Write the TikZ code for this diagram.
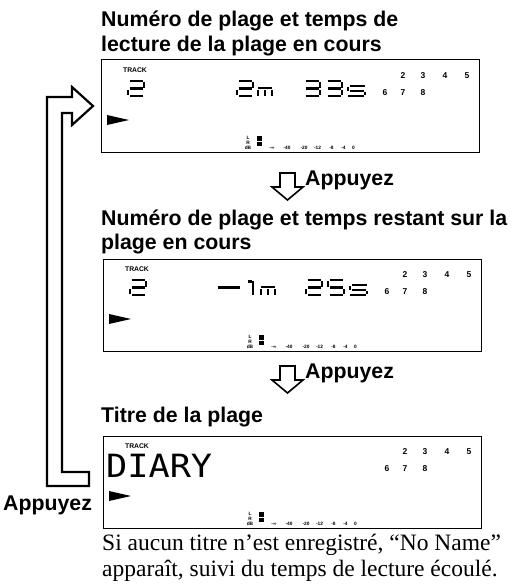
\documentclass[tikz,border=0pt]{standalone}
\usepackage{fontspec}
\setmainfont{Liberation Serif}
\setsansfont{Liberation Sans}
\newfontfamily\lcdfont{DejaVu Sans Mono}
\usetikzlibrary{positioning}

\tikzset{
  heading/.style={font=\sffamily\bfseries\fontsize{21.3}{25}\selectfont, anchor=base west, inner sep=0pt},
  note/.style={font=\fontsize{23.5}{26}\selectfont, anchor=base west, inner sep=0pt},
  lcdframe/.style={draw, line width=1pt, minimum width=378pt, minimum height=92pt, anchor=north west, inner sep=0pt, outer sep=0pt},
  lcdseg/.style={line width=2.6pt},
  hollow/.style={draw, line width=1.6pt, fill=white, line join=miter},
  tracklbl/.style={font=\sffamily\bfseries\fontsize{6.8}{7}\selectfont, inner sep=0pt},
  trackno/.style={font=\sffamily\bfseries\fontsize{8.5}{9}\selectfont, inner sep=0pt},
  tinylbl/.style={font=\sffamily\bfseries\fontsize{4.8}{5}\selectfont, inner sep=0pt, anchor=base},
}

% segments of one LCD digit, 16 wide and 15 high
\def\segA{(1.5,0) -- (14.5,0)}
\def\segB{(16,1) -- (16,6.5)}
\def\segC{(16,8.5) -- (16,14)}
\def\segD{(1.5,15) -- (14.5,15)}
\def\segE{(0,8.5) -- (0,14)}
\def\segF{(0,1) -- (0,6.5)}
\def\segG{(1.5,7.5) -- (14.5,7.5)}

\newcommand{\lcddigit}[3]{%
  \begin{scope}[shift={(#1,#2)}]
    \foreach \s in {#3} {\draw[lcdseg] \csname seg\s\endcsname;}
  \end{scope}}

% small m and s of the time read-out
\newcommand{\lcdm}[2]{%
  \begin{scope}[shift={(#1,#2)}]
    \draw[lcdseg] (0,7) -- (14,7);
    \foreach \lx in {0,7,14} {\draw[lcdseg] (\lx,9) -- (\lx,15);}
  \end{scope}}
\newcommand{\lcds}[2]{%
  \begin{scope}[shift={(#1,#2)}]
    \draw[lcdseg] (1.5,5) -- (17,5);
    \draw[lcdseg] (0,6) -- (0,9.5);
    \draw[lcdseg] (1.5,10) -- (15.5,10);
    \draw[lcdseg] (17,11) -- (17,14);
    \draw[lcdseg] (0,15) -- (15.5,15);
  \end{scope}}

% parts shared by the three displays
\newcommand{\lcdbase}[1]{%
  \node[tracklbl] (#1-track) at (34,10.5) {TRACK};
  \foreach \n/\px/\py in {2/302/16,3/322/16,4/344/16,5/366/16,6/284/33,7/302/33,8/322/33}
    {\node[trackno] (#1-no\n) at (\px,\py) {\n};}
  \fill (6,55) -- (28,60) -- (6,65) -- cycle;
  \node[tinylbl] (#1-l) at (147,79.5) {L};
  \node[tinylbl] (#1-r) at (147,84.5) {R};
  \node[tinylbl] (#1-db) at (147,89.5) {dB};
  \fill (156,76) rectangle (161,80.5);
  \fill (156,81.5) rectangle (161,86);
  \foreach \v/\px [count=\i] in {-∞/171,-40/186,-20/203,-12/216.5,-8/230.5,-4/242.5,0/252.5}
    {\node[tinylbl] (#1-db\i) at (\px,89.5) {\v};}
}

\begin{document}
\begin{tikzpicture}[x=1pt, y=-1pt]
\useasboundingbox (0,0) rectangle (513,586);

% elapsed time
\node[heading] (t1a) at (101,27) {Numéro de plage et temps de};
\node[heading] (t1b) at (101,52) {lecture de la plage en cours};
\node[lcdframe] (d1) at (101,60) {};
\begin{scope}[shift={(d1.north west)}]
  \lcdbase{d1}
  \lcddigit{27}{21}{A,B,G,E,D}
  \lcddigit{136}{21}{A,B,G,E,D}
  \lcdm{157}{21}
  \lcddigit{203}{21}{A,B,G,C,D}
  \lcddigit{225}{21}{A,B,G,C,D}
  \lcds{247}{21}
\end{scope}

\draw[hollow] (280,173) -- (295,173) -- (295,187) -- (303,187) -- (287.5,200) -- (272,187) -- (280,187) -- cycle;
\node[heading] (p1) at (305,185) {Appuyez};

% remaining time
\node[heading] (t2a) at (101,225) {Numéro de plage et temps restant sur la};
\node[heading] (t2b) at (101,249) {plage en cours};
\node[lcdframe] (d2) at (103,259) {};
\begin{scope}[shift={(d2.north west)}]
  \lcdbase{d2}
  \lcddigit{27}{21}{A,B,G,E,D}
  \draw[lcdseg] (115,28.5) -- (137,28.5);
  \draw[lcdseg] (150,21.5) -- (150,36);
  \draw[lcdseg] (145,22.5) -- (148.5,22.5);
  \lcdm{158}{21}
  \lcddigit{203}{21}{A,B,G,E,D}
  \lcddigit{225}{21}{A,F,G,C,D}
  \lcds{247}{21}
\end{scope}

\draw[hollow] (280,366) -- (295,366) -- (295,380) -- (303,380) -- (287.5,393) -- (272,380) -- (280,380) -- cycle;
\node[heading] (p2) at (305,378) {Appuyez};

% track title
\node[heading] (t3) at (101,422) {Titre de la plage};
\node[lcdframe] (d3) at (103,436) {};
\begin{scope}[shift={(d3.north west)}]
  \lcdbase{d3}
  \node[font=\lcdfont\fontsize{32}{32}\selectfont, anchor=base west, inner sep=0pt, xscale=1.1, transform shape] (d3-title) at (3,41) {DIARY};
\end{scope}

% back to the first display
\draw[hollow, line width=2.2pt] (89,486) -- (47,486) -- (47,97) -- (72,97) -- (72,87) -- (93,106) -- (72,125) -- (72,113) -- (62,113) -- (62,472) -- (89,472) -- cycle;
\node[heading] (p3) at (3,510) {Appuyez};

\node[note] (n1) at (102,550) {Si aucun titre n’est enregistré, “No Name”};
\node[note] (n2) at (102,576) {apparaît, suivi du temps de lecture écoulé.};
\end{tikzpicture}
\end{document}
